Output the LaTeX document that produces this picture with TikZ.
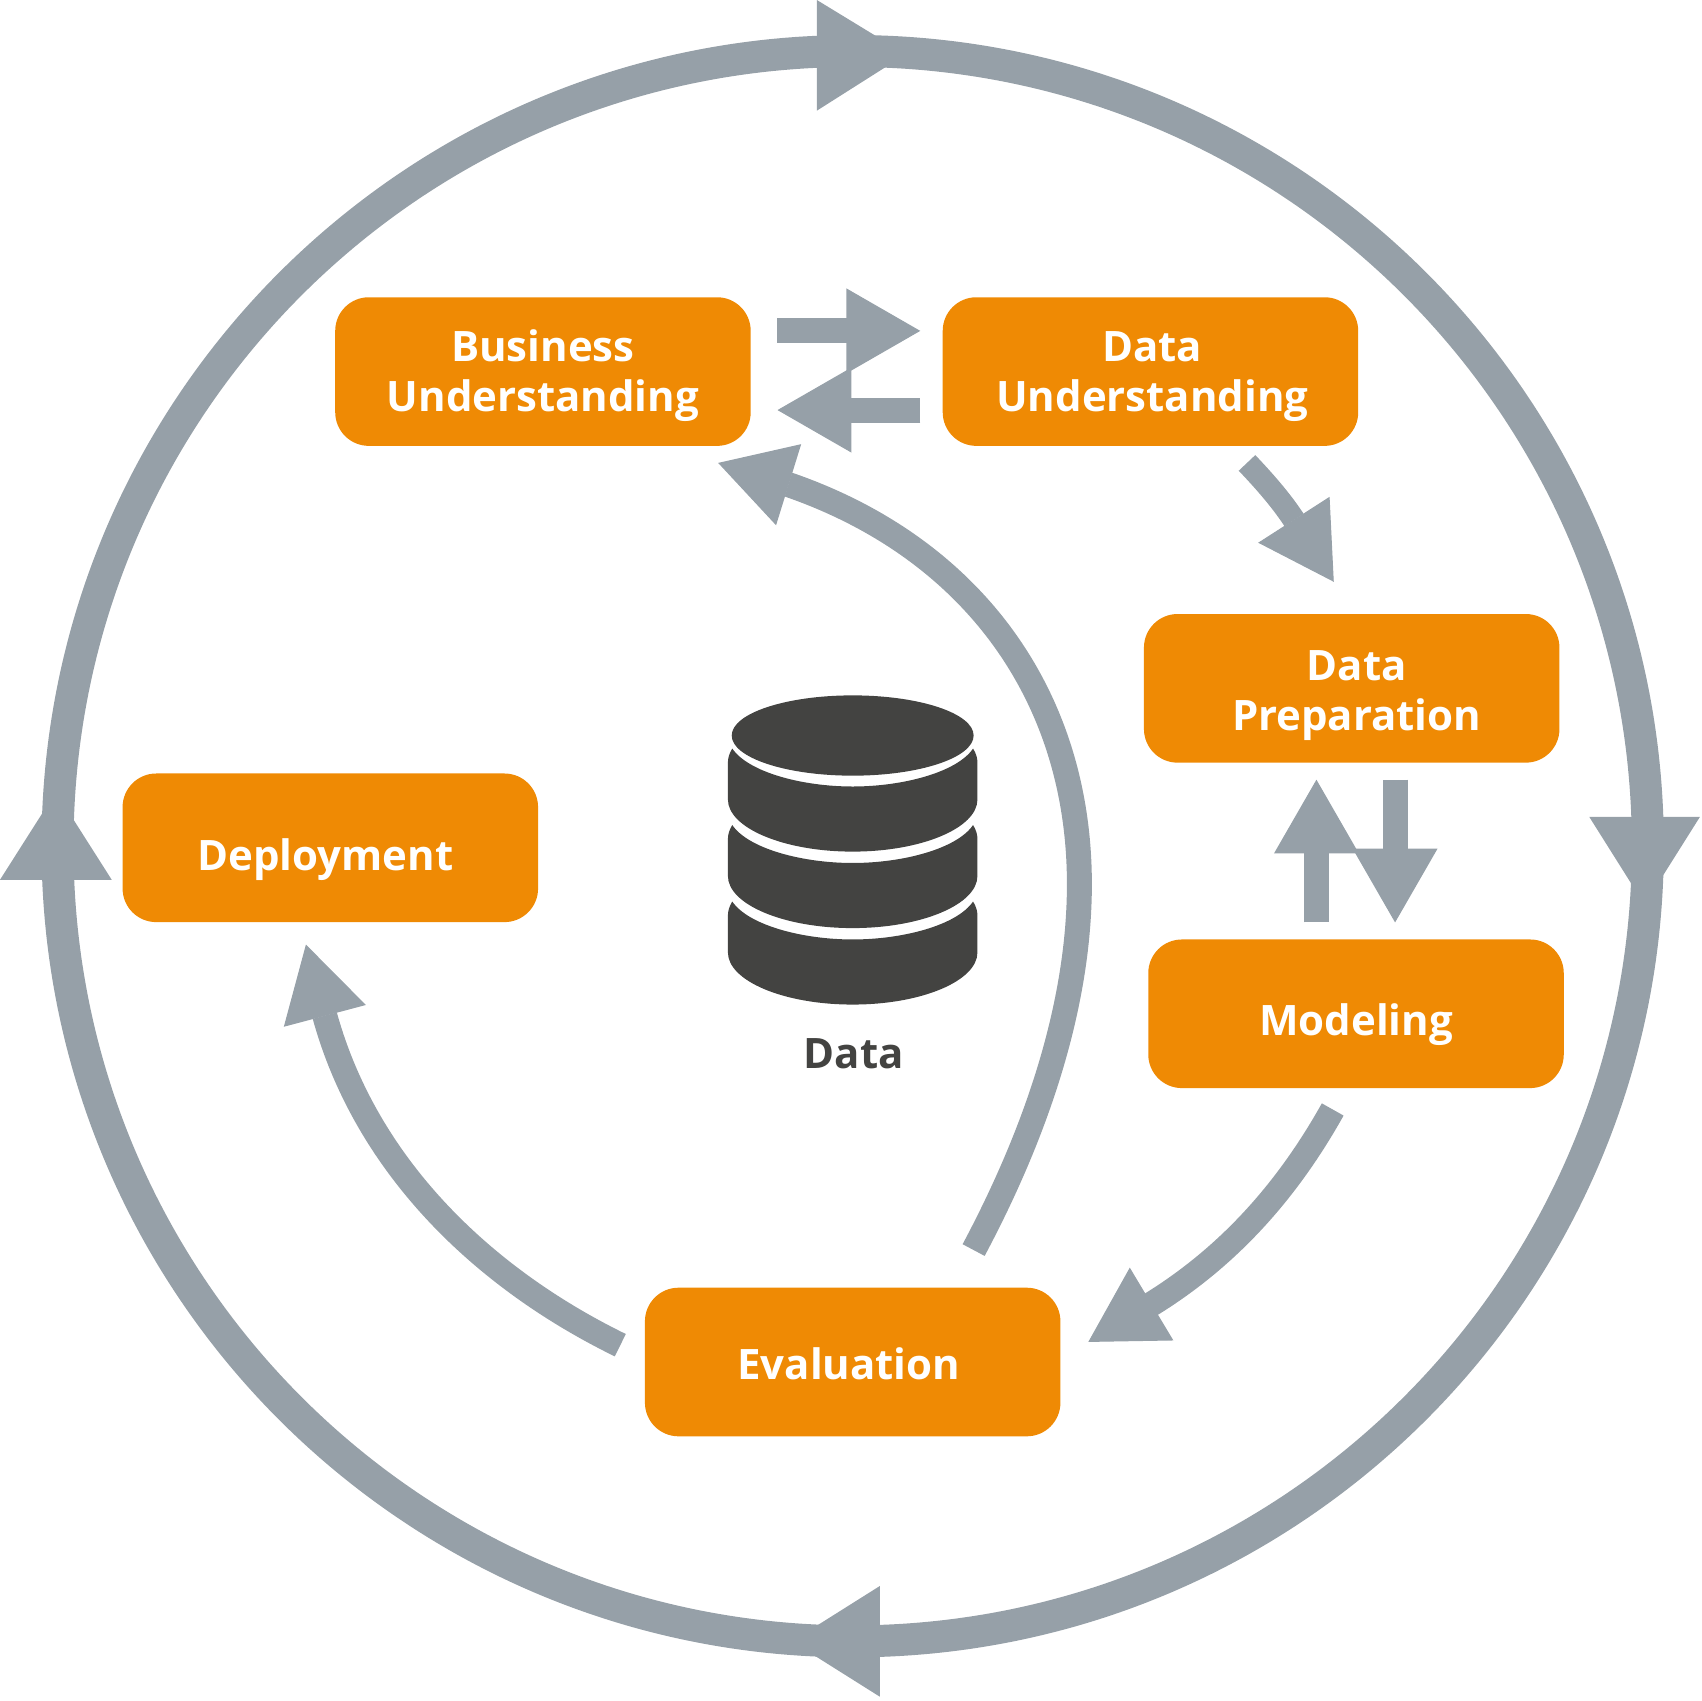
\documentclass[tikz,border=0pt]{standalone}
\usepackage{fontspec}
\setmainfont{Open Sans}
\usetikzlibrary{arrows.meta}
\definecolor{ringgray}{HTML}{96A0A8}
\definecolor{boxorange}{HTML}{EF8A04}
\definecolor{dbdark}{HTML}{434341}
\tikzset{
 procbox/.style={fill=boxorange,rounded corners=3.1mm,minimum width=38.3mm,minimum height=13.7mm,inner sep=0pt,
   text=white,align=center,text height=10pt,text depth=0.6pt,font=\fontsize{11}{13}\selectfont\bfseries},
 twoline/.style={text height=21.4pt},
 flow/.style={draw=ringgray,line width=2.3mm,-{Triangle[length=6.8mm,width=7.8mm,line width=0.3pt]}}
}
\begin{document}
\begin{tikzpicture}[x=0.1mm,y=-0.1mm]
 \useasboundingbox (0,0) rectangle (1568,1568);
 \draw[ringgray,line width=2.95mm] (786,780) circle (733);
 \foreach \ax/\ay/\bx/\by/\cx/\cy in {753/0/753/102/835/50,1465/753/1567/753/1516/834,811/1462/811/1564/730/1513,0/811/103/811/51.5/730}
   {\fill[ringgray] (\ax,\ay)--(\bx,\by)--(\cx,\cy)--cycle;}
 \node[procbox,twoline] (bu) at (500.5,342.5) {Business\\Understanding};
 \node[procbox,twoline] (du) at (1060.5,342.5) {\kern1pt Data\\\kern1pt Understanding};
 \node[procbox,twoline,text height=22.6pt] (dp) at (1246,634.5) {\kern2.6pt Data\\\kern2.6pt Preparation};
 \node[procbox] (mod) at (1250,934.5) {\raisebox{-1pt}{Modeling}};
 \node[procbox] (eval) at (786,1255.5) {Evaluation\kern2pt};
 \node[procbox] (dep) at (304.5,781.5) {\raisebox{-1.2pt}{Deployment}\kern2.6pt};
 \draw[flow] ([shift={(24,-37.5)}]bu.east)--([shift={(-20,-37.5)}]du.west);
 \draw[flow] ([shift={(-20,35.5)}]du.west)--([shift={(24,35.5)}]bu.east);
 \draw[flow,line width=2.1mm] ([shift={(89,15)}]du.south) .. controls (1165,443) and (1180,460) .. (1192,478)
   --([shift={(-16.5,-29)}]dp.north);
 \draw[flow] ([shift={(-36.5,-15)}]mod.north)--([shift={(-32.5,15)}]dp.south);
 \draw[flow] ([shift={(40,15)}]dp.south)--([shift={(36,-15)}]mod.north);
 \draw[flow] ([shift={(-21.5,19)}]mod.south) .. controls (1187,1097) and (1133,1158) .. (1061,1202.4)
   --([shift={(25,-18.5)}]eval.east);
 \draw[flow] ([shift={(111.5,-34)}]eval.north) .. controls (960,1035) and (995,920) .. (995,815)
   .. controls (995,640) and (895,505) .. (727.6,447)--([shift={(161.5,15)}]bu.south);
 \draw[flow] ([shift={(-22,-15.5)}]eval.west) .. controls (445,1178) and (338,1075) .. (299.6,937)
   --([shift={(-22.5,20)}]dep.south);
 \fill[dbdark] (786,678) ellipse (111.5 and 37);
 \foreach \y in {0,70.5,141}{
   \fill[dbdark,shift={(0,\y)}] (675,690) .. controls (690,712) and (740,725) .. (786,725)
     .. controls (832,725) and (882,712) .. (897,690) .. controls (900,695) and (901,699) .. (901,703)
     --(901,737) .. controls (901,763) and (850,785) .. (786,785) .. controls (722,785) and (671,763) .. (671,737)
     --(671,703) .. controls (671,699) and (672,695) .. (675,690)--cycle;
 }
 \node[text=dbdark,inner sep=0pt,font=\fontsize{11}{13}\selectfont\bfseries] (dblabel) at (787,971) {Data};
\end{tikzpicture}
\end{document}
